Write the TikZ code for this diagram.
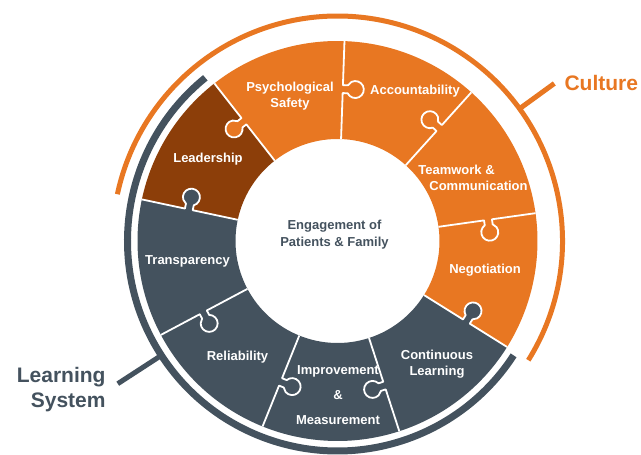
\documentclass[tikz,border=0pt]{standalone}
\usepackage{fontspec}
\setsansfont{Liberation Sans}
\usepackage{tikz}
\usetikzlibrary{positioning}
\definecolor{cultureBody}{rgb}{0.91,0.467,0.133}
\definecolor{leaderBody}{rgb}{0.549,0.243,0.035}
\definecolor{systemBody}{rgb}{0.267,0.322,0.369}
\tikzstyle{pieceText} = [text=white, inner sep=0pt, align=center,
        font={\sffamily\bfseries\fontsize{13}{16}\selectfont}]
\tikzstyle{hubText} = [pieceText, text=systemBody,
        font={\sffamily\bfseries\fontsize{13}{17}\selectfont}]
\tikzstyle{headText} = [inner sep=0pt, font={\sffamily\bfseries\fontsize{21}{25}\selectfont}]
\tikzstyle{seamLine} = [draw=white, line width=1.8pt, line join=round]
\tikzstyle{cultureArc} = [draw=cultureBody, line width=5pt]
\tikzstyle{systemArc} = [draw=systemBody, line width=7pt]

\begin{document}
\begin{tikzpicture}[x=1pt, y=1pt]
    \useasboundingbox (-337.5,-214) rectangle (303.5,241);
    \foreach \a/\c in {88/cultureBody, 48/cultureBody, 8/cultureBody, -32/cultureBody,
            -72/systemBody, -112/systemBody, -152/systemBody, 168/systemBody, 128/leaderBody}
        \fill[\c] (\a:102) arc[start angle=\a, end angle=\a+40, radius=102]
            -- ({\a+40}:200) arc[start angle=\a+40, end angle=\a, radius=200] -- cycle;
    \foreach \a/\s/\c in {88/-1/cultureBody, 48/1/cultureBody, 8/-1/cultureBody,
            -32/1/systemBody, -72/-1/systemBody, -112/1/systemBody, -152/1/systemBody,
            168/-1/systemBody, 128/1/cultureBody} {
        \begin{scope}[rotate=\a, yscale=\s]
            \fill[\c] (148,-1) -- (148,5) arc[start angle=-118, end angle=-422, radius=8.5]
                -- (156,-1) -- cycle;
            \draw[seamLine] (102,0) -- (148,0) -- (148,5)
                arc[start angle=-118, end angle=-422, radius=8.5] -- (156,0) -- (200,0);
        \end{scope}
    }
    \draw[cultureArc] (-32:225) arc[start angle=-32, end angle=168, radius=225];
    \draw[systemArc] (129:210) arc[start angle=129, end angle=327, radius=210];
    \coordinate (cultureFoot) at (36:224);
    \coordinate (cultureTip) at (36:268);
    \coordinate (systemFoot) at (213:212);
    \coordinate (systemTip) at (213:262);
    \draw[cultureBody, line width=5pt] (cultureFoot) -- (cultureTip);
    \draw[systemBody, line width=5pt] (systemFoot) -- (systemTip);
    \node[headText, text=cultureBody, right=10pt of cultureTip] (culture) {Culture};
    \node[headText, text=systemBody, align=right, left=12pt of systemTip, yshift=-6pt]
        (system) {Learning\\System};
    \node[hubText] (hub) at (-3,6.5) {Engagement of\\Patients \& Family};
    \node[pieceText] (psych) at (-47.5,145) {Psychological\\Safety};
    \node[pieceText] (account) at (77.5,150) {Accountability};
    \node[pieceText, align=left] (teamwork) at (135.5,63) {Teamwork \&\\\hspace{11pt}Communication};
    \node[pieceText] (negotiation) at (147.5,-29) {Negotiation};
    \node[pieceText] (continuous) at (99.5,-123) {Continuous\\Learning};
    \node[pieceText] (improve) at (0.5,-154) {Improvement\\[9pt]\&\\[9pt]Measurement};
    \node[pieceText] (reliability) at (-100,-116) {Reliability};
    \node[pieceText] (transparency) at (-150,-20) {Transparency};
    \node[pieceText] (leadership) at (-129.5,82) {Leadership};
\end{tikzpicture}
\end{document}
